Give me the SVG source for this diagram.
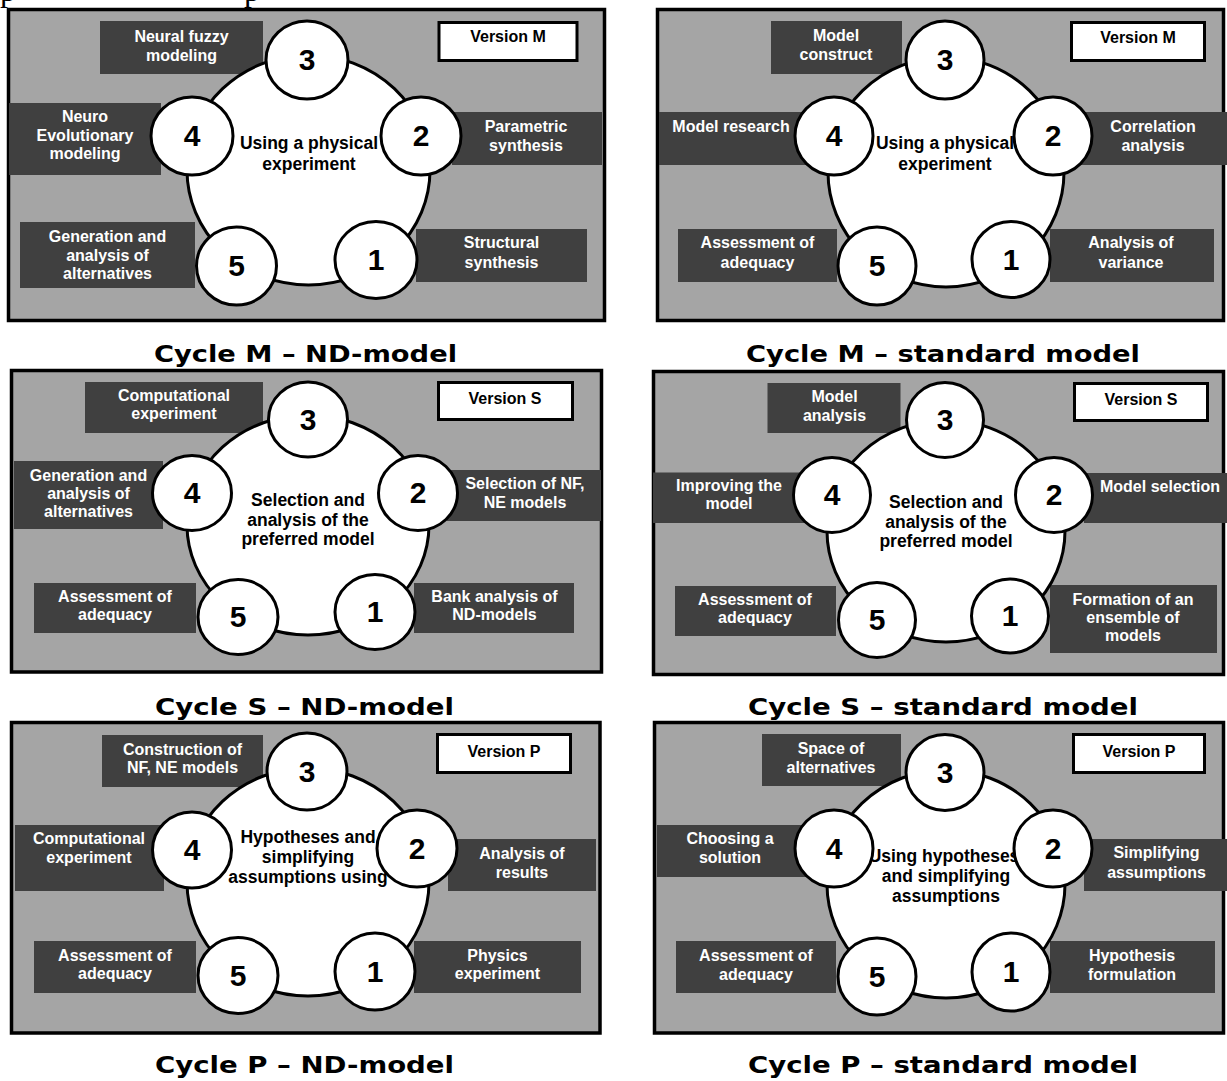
<svg xmlns="http://www.w3.org/2000/svg" width="1227" height="1081" viewBox="0 0 1227 1081">
<style>
  .panel { fill: #a5a5a5; stroke: #000; stroke-width: 3.5; }
  .lbl { fill: #404040; }
  .ver { fill: #fff; stroke: #000; stroke-width: 3; }
  .ring { fill: #fff; stroke: #000; stroke-width: 3; }
  .step { fill: #fff; stroke: #000; stroke-width: 3; }
  text { font-family: "Liberation Sans", Arial, sans-serif; font-weight: bold; text-anchor: middle; }
  .l { font-size: 16px; fill: #fff; }
  .v { font-size: 16px; fill: #000; }
  .c { font-size: 17.5px; fill: #000; }
  .n { font-size: 30px; fill: #000; }
  .t { font-family: "DejaVu Sans", Verdana, sans-serif; font-size: 23px; fill: #000; }
  .frag { font-family: "Liberation Serif", "Times New Roman", serif; font-weight: normal; font-size: 32px; text-anchor: start; fill: #000; }
</style>

<!-- descenders of the line above, cut by the top edge -->
<text class="frag" x="0" y="1">p</text>
<text class="frag" x="244" y="1">p</text>

<!-- Cycle M, ND-model -->
<g id="panel-m-nd">
  <rect class="panel" x="8.5" y="9.5" width="596" height="311"/>
  <g id="m-nd-label3"><rect class="lbl" x="100" y="21" width="163" height="53"/>
    <text class="l" x="181.5" y="42">Neural fuzzy</text><text class="l" x="181.5" y="61">modeling</text></g>
  <g id="m-nd-label4"><rect class="lbl" x="9" y="103" width="152" height="72"/>
    <text class="l" x="85" y="122">Neuro</text><text class="l" x="85" y="140.5">Evolutionary</text><text class="l" x="85" y="159">modeling</text></g>
  <g id="m-nd-label2"><rect class="lbl" x="452" y="112" width="150" height="53"/>
    <text class="l" x="526" y="132">Parametric</text><text class="l" x="526" y="151">synthesis</text></g>
  <g id="m-nd-label5"><rect class="lbl" x="20" y="222" width="175" height="66"/>
    <text class="l" x="107.5" y="242">Generation and</text><text class="l" x="107.5" y="260.5">analysis of</text><text class="l" x="107.5" y="279">alternatives</text></g>
  <g id="m-nd-label1"><rect class="lbl" x="416" y="229" width="171" height="53"/>
    <text class="l" x="501.5" y="248">Structural</text><text class="l" x="501.5" y="268">synthesis</text></g>
  <g id="m-nd-version"><rect class="ver" x="439" y="22.5" width="138" height="38"/>
    <text class="v" x="508" y="42">Version M</text></g>
  <g id="m-nd-hub"><ellipse class="ring" cx="308.5" cy="170" rx="121.5" ry="115"/>
    <text class="c" x="309" y="149">Using a physical</text><text class="c" x="309" y="170">experiment</text></g>
  <g id="m-nd-step3"><ellipse class="step" cx="307" cy="60" rx="41" ry="39"/><text class="n" x="307" y="70">3</text></g>
  <g id="m-nd-step4"><ellipse class="step" cx="192" cy="136" rx="41" ry="39"/><text class="n" x="192" y="146">4</text></g>
  <g id="m-nd-step2"><ellipse class="step" cx="421" cy="136" rx="40" ry="39"/><text class="n" x="421" y="146">2</text></g>
  <g id="m-nd-step5"><ellipse class="step" cx="236.5" cy="266" rx="40" ry="39"/><text class="n" x="236.5" y="276">5</text></g>
  <g id="m-nd-step1"><ellipse class="step" cx="376" cy="260" rx="41" ry="38.5"/><text class="n" x="376" y="270">1</text></g>
</g>

<!-- Cycle M, standard model -->
<g id="panel-m-std">
  <rect class="panel" x="657.5" y="9.5" width="566" height="311"/>
  <g id="m-std-label3"><rect class="lbl" x="771" y="21" width="131" height="53"/>
    <text class="l" x="836" y="41">Model</text><text class="l" x="836" y="60">construct</text></g>
  <g id="m-std-label4"><rect class="lbl" x="659" y="112" width="151" height="53"/>
    <text class="l" x="731" y="132">Model research</text></g>
  <g id="m-std-label2"><rect class="lbl" x="1080" y="112" width="147" height="53"/>
    <text class="l" x="1153" y="132">Correlation</text><text class="l" x="1153" y="151">analysis</text></g>
  <g id="m-std-label5"><rect class="lbl" x="678" y="229" width="159" height="53"/>
    <text class="l" x="757.5" y="248">Assessment of</text><text class="l" x="757.5" y="268">adequacy</text></g>
  <g id="m-std-label1"><rect class="lbl" x="1050" y="229" width="164" height="53"/>
    <text class="l" x="1131" y="248">Analysis of</text><text class="l" x="1131" y="268">variance</text></g>
  <g id="m-std-version"><rect class="ver" x="1071.5" y="22.5" width="133" height="38"/>
    <text class="v" x="1138" y="43">Version M</text></g>
  <g id="m-std-hub"><ellipse class="ring" cx="946" cy="172" rx="118" ry="115"/>
    <text class="c" x="945" y="149">Using a physical</text><text class="c" x="945" y="170">experiment</text></g>
  <g id="m-std-step3"><ellipse class="step" cx="945" cy="60" rx="39" ry="39"/><text class="n" x="945" y="70">3</text></g>
  <g id="m-std-step4"><ellipse class="step" cx="834" cy="136" rx="39" ry="39"/><text class="n" x="834" y="146">4</text></g>
  <g id="m-std-step2"><ellipse class="step" cx="1053" cy="136" rx="39" ry="39"/><text class="n" x="1053" y="146">2</text></g>
  <g id="m-std-step5"><ellipse class="step" cx="877" cy="266" rx="39" ry="39"/><text class="n" x="877" y="276">5</text></g>
  <g id="m-std-step1"><ellipse class="step" cx="1011" cy="259.5" rx="39" ry="38"/><text class="n" x="1011" y="269.5">1</text></g>
</g>

<!-- Cycle S, ND-model -->
<g id="panel-s-nd">
  <rect class="panel" x="11.5" y="370.5" width="590" height="301.5"/>
  <g id="s-nd-label3"><rect class="lbl" x="85" y="382" width="178" height="51"/>
    <text class="l" x="174" y="401">Computational</text><text class="l" x="174" y="418.5">experiment</text></g>
  <g id="s-nd-label4"><rect class="lbl" x="14" y="461" width="149" height="68"/>
    <text class="l" x="88.5" y="481">Generation and</text><text class="l" x="88.5" y="499">analysis of</text><text class="l" x="88.5" y="517">alternatives</text></g>
  <g id="s-nd-label2"><rect class="lbl" x="447" y="470" width="154" height="51"/>
    <text class="l" x="525" y="489">Selection of NF,</text><text class="l" x="525" y="508">NE models</text></g>
  <g id="s-nd-label5"><rect class="lbl" x="34" y="583" width="162" height="50"/>
    <text class="l" x="115" y="602">Assessment of</text><text class="l" x="115" y="620">adequacy</text></g>
  <g id="s-nd-label1"><rect class="lbl" x="414" y="583" width="160" height="50"/>
    <text class="l" x="494.5" y="602">Bank analysis of</text><text class="l" x="494.5" y="620">ND-models</text></g>
  <g id="s-nd-version"><rect class="ver" x="438.5" y="382.5" width="134" height="37"/>
    <text class="v" x="505" y="404">Version S</text></g>
  <g id="s-nd-hub"><ellipse class="ring" cx="308" cy="525" rx="121" ry="110"/>
    <text class="c" x="308" y="506">Selection and</text><text class="c" x="308" y="526">analysis of the</text><text class="c" x="308" y="545">preferred model</text></g>
  <g id="s-nd-step3"><ellipse class="step" cx="308" cy="419.5" rx="39.5" ry="37.5"/><text class="n" x="308" y="429.5">3</text></g>
  <g id="s-nd-step4"><ellipse class="step" cx="192" cy="493" rx="39.5" ry="37.5"/><text class="n" x="192" y="503">4</text></g>
  <g id="s-nd-step2"><ellipse class="step" cx="418" cy="493" rx="39.5" ry="37.5"/><text class="n" x="418" y="503">2</text></g>
  <g id="s-nd-step5"><ellipse class="step" cx="238" cy="617" rx="40" ry="37.5"/><text class="n" x="238" y="627">5</text></g>
  <g id="s-nd-step1"><ellipse class="step" cx="375" cy="612" rx="40" ry="37.5"/><text class="n" x="375" y="622">1</text></g>
</g>

<!-- Cycle S, standard model -->
<g id="panel-s-std">
  <rect class="panel" x="653.5" y="371.5" width="570" height="303"/>
  <g id="s-std-label3"><rect class="lbl" x="767.5" y="383" width="133" height="50"/>
    <text class="l" x="834.5" y="401.5">Model</text><text class="l" x="834.5" y="420.5">analysis</text></g>
  <g id="s-std-label4"><rect class="lbl" x="653" y="472.5" width="157" height="50.5"/>
    <text class="l" x="729" y="491">Improving the</text><text class="l" x="729" y="509">model</text></g>
  <g id="s-std-label2"><rect class="lbl" x="1084" y="473" width="143" height="50"/>
    <text class="l" x="1160" y="492">Model selection</text></g>
  <g id="s-std-label5"><rect class="lbl" x="675" y="586" width="161" height="50"/>
    <text class="l" x="755" y="605">Assessment of</text><text class="l" x="755" y="623">adequacy</text></g>
  <g id="s-std-label1"><rect class="lbl" x="1050" y="585" width="167" height="68"/>
    <text class="l" x="1133" y="605">Formation of an</text><text class="l" x="1133" y="622.5">ensemble of</text><text class="l" x="1133" y="641">models</text></g>
  <g id="s-std-version"><rect class="ver" x="1074.5" y="383.5" width="133" height="37"/>
    <text class="v" x="1141" y="405">Version S</text></g>
  <g id="s-std-hub"><ellipse class="ring" cx="946" cy="531" rx="119" ry="111"/>
    <text class="c" x="946" y="508">Selection and</text><text class="c" x="946" y="528">analysis of the</text><text class="c" x="946" y="547">preferred model</text></g>
  <g id="s-std-step3"><ellipse class="step" cx="945" cy="420" rx="38.5" ry="37.5"/><text class="n" x="945" y="430">3</text></g>
  <g id="s-std-step4"><ellipse class="step" cx="832" cy="495" rx="38.5" ry="37.5"/><text class="n" x="832" y="505">4</text></g>
  <g id="s-std-step2"><ellipse class="step" cx="1054" cy="495" rx="38.5" ry="37.5"/><text class="n" x="1054" y="505">2</text></g>
  <g id="s-std-step5"><ellipse class="step" cx="877" cy="620" rx="38.5" ry="37.5"/><text class="n" x="877" y="630">5</text></g>
  <g id="s-std-step1"><ellipse class="step" cx="1010" cy="616" rx="38.5" ry="37"/><text class="n" x="1010" y="626">1</text></g>
</g>

<!-- Cycle P, ND-model -->
<g id="panel-p-nd">
  <rect class="panel" x="11.5" y="722.5" width="588.5" height="310.5"/>
  <g id="p-nd-label3"><rect class="lbl" x="102" y="735" width="161" height="52"/>
    <text class="l" x="182.5" y="755">Construction of</text><text class="l" x="182.5" y="773">NF, NE models</text></g>
  <g id="p-nd-label4"><rect class="lbl" x="15" y="825" width="149" height="66"/>
    <text class="l" x="89" y="844">Computational</text><text class="l" x="89" y="863">experiment</text></g>
  <g id="p-nd-label2"><rect class="lbl" x="448" y="839" width="148" height="52"/>
    <text class="l" x="522" y="859">Analysis of</text><text class="l" x="522" y="878">results</text></g>
  <g id="p-nd-label5"><rect class="lbl" x="34" y="941" width="162" height="52"/>
    <text class="l" x="115" y="961">Assessment of</text><text class="l" x="115" y="979">adequacy</text></g>
  <g id="p-nd-label1"><rect class="lbl" x="414" y="941" width="167" height="52"/>
    <text class="l" x="497.5" y="961">Physics</text><text class="l" x="497.5" y="979">experiment</text></g>
  <g id="p-nd-version"><rect class="ver" x="437.5" y="734.5" width="133" height="38"/>
    <text class="v" x="504" y="757">Version P</text></g>
  <g id="p-nd-hub"><ellipse class="ring" cx="308" cy="882" rx="121" ry="114"/>
    <text class="c" x="308" y="843">Hypotheses and</text><text class="c" x="308" y="863">simplifying</text><text class="c" x="308" y="883">assumptions using</text></g>
  <g id="p-nd-step3"><ellipse class="step" cx="307" cy="771.5" rx="40" ry="38.5"/><text class="n" x="307" y="781.5">3</text></g>
  <g id="p-nd-step4"><ellipse class="step" cx="192" cy="850" rx="39.5" ry="38"/><text class="n" x="192" y="860">4</text></g>
  <g id="p-nd-step2"><ellipse class="step" cx="417" cy="848.5" rx="40" ry="38.5"/><text class="n" x="417" y="858.5">2</text></g>
  <g id="p-nd-step5"><ellipse class="step" cx="238" cy="975.5" rx="40" ry="38"/><text class="n" x="238" y="985.5">5</text></g>
  <g id="p-nd-step1"><ellipse class="step" cx="375" cy="971.5" rx="40" ry="38.5"/><text class="n" x="375" y="981.5">1</text></g>
</g>

<!-- Cycle P, standard model -->
<g id="panel-p-std">
  <rect class="panel" x="654.5" y="722.5" width="569" height="310.5"/>
  <g id="p-std-label3"><rect class="lbl" x="762" y="734" width="139" height="52"/>
    <text class="l" x="831" y="754">Space of</text><text class="l" x="831" y="773">alternatives</text></g>
  <g id="p-std-label4"><rect class="lbl" x="657" y="825" width="153" height="52"/>
    <text class="l" x="730" y="844">Choosing a</text><text class="l" x="730" y="863">solution</text></g>
  <g id="p-std-label2"><rect class="lbl" x="1084" y="839" width="143" height="52"/>
    <text class="l" x="1156.5" y="858">Simplifying</text><text class="l" x="1156.5" y="878">assumptions</text></g>
  <g id="p-std-label5"><rect class="lbl" x="676" y="941" width="160" height="52"/>
    <text class="l" x="756" y="961">Assessment of</text><text class="l" x="756" y="980">adequacy</text></g>
  <g id="p-std-label1"><rect class="lbl" x="1050" y="941" width="165" height="52"/>
    <text class="l" x="1132" y="961">Hypothesis</text><text class="l" x="1132" y="980">formulation</text></g>
  <g id="p-std-version"><rect class="ver" x="1073.5" y="734.5" width="131" height="38"/>
    <text class="v" x="1139" y="757">Version P</text></g>
  <g id="p-std-hub"><ellipse class="ring" cx="946" cy="884" rx="119" ry="114"/>
    <text class="c" x="944" y="862">Using hypotheses</text><text class="c" x="946" y="882">and simplifying</text><text class="c" x="946" y="902">assumptions</text></g>
  <g id="p-std-step3"><ellipse class="step" cx="945" cy="772.5" rx="39" ry="38"/><text class="n" x="945" y="782.5">3</text></g>
  <g id="p-std-step4"><ellipse class="step" cx="834" cy="848.5" rx="39" ry="38.5"/><text class="n" x="834" y="858.5">4</text></g>
  <g id="p-std-step2"><ellipse class="step" cx="1053" cy="848.5" rx="39" ry="38.5"/><text class="n" x="1053" y="858.5">2</text></g>
  <g id="p-std-step5"><ellipse class="step" cx="877" cy="976.5" rx="39" ry="38.5"/><text class="n" x="877" y="986.5">5</text></g>
  <g id="p-std-step1"><ellipse class="step" cx="1011" cy="972" rx="39" ry="39"/><text class="n" x="1011" y="982">1</text></g>
</g>

<!-- captions under each cycle -->
<g id="captions">
  <text class="t" x="305.5" y="362" textLength="303" lengthAdjust="spacingAndGlyphs">Cycle M – ND-model</text>
  <text class="t" x="943" y="362" textLength="394" lengthAdjust="spacingAndGlyphs">Cycle M – standard model</text>
  <text class="t" x="304.5" y="715" textLength="299" lengthAdjust="spacingAndGlyphs">Cycle S – ND-model</text>
  <text class="t" x="943" y="715" textLength="390" lengthAdjust="spacingAndGlyphs">Cycle S – standard model</text>
  <text class="t" x="304.5" y="1073" textLength="299" lengthAdjust="spacingAndGlyphs">Cycle P – ND-model</text>
  <text class="t" x="943" y="1073" textLength="390" lengthAdjust="spacingAndGlyphs">Cycle P – standard model</text>
</g>

<g id="connectors"/>
</svg>
